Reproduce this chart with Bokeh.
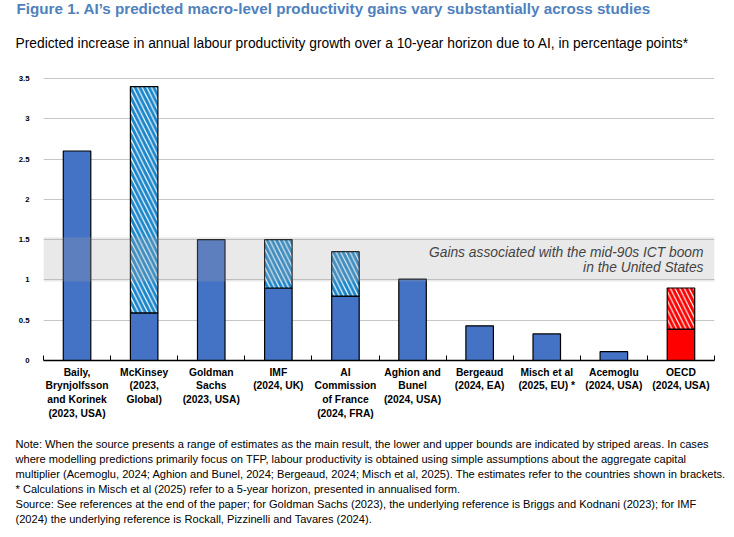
import numpy as np
from bokeh.plotting import figure
from bokeh.models import (ColumnDataSource, FixedTicker, CustomJSTickFormatter,
                          BoxAnnotation, Label, Range1d, Title)
from bokeh.embed import file_html
from bokeh.resources import INLINE

# ---------------- data ----------------
categories = [
    "Baily,\nBrynjolfsson\nand Korinek\n(2023, USA)",
    "McKinsey\n(2023,\nGlobal)",
    "Goldman\nSachs\n(2023, USA)",
    "IMF\n(2024, UK)",
    "AI\nCommission\nof France\n(2024, FRA)",
    "Aghion and\nBunel\n(2024, USA)",
    "Bergeaud\n(2024, EA)",
    "Misch et al\n(2025, EU) *",
    "Acemoglu\n(2024, USA)",
    "OECD\n(2024, USA)",
]
lower_bound = [2.6, 0.59, 1.5, 0.9, 0.8, 1.01, 0.43, 0.33, 0.11, 0.39]
upper_bound = [2.6, 3.4, 1.5, 1.5, 1.35, 1.01, 0.43, 0.33, 0.11, 0.9]
is_oecd = [False] * 9 + [True]
y_ticks = [0, 0.5, 1, 1.5, 2, 2.5, 3, 3.5]
ict_band = (0.98, 1.53)

title_text = "Figure 1. AI\u2019s predicted macro-level productivity gains vary substantially across studies"
subtitle_text = ("Predicted increase in annual labour productivity growth over a 10-year horizon "
                 "due to AI, in percentage points*")
band_text = ["Gains associated with the mid-90s ICT boom", "in the United States"]
note_lines = [
    "Note: When the source presents a range of estimates as the main result, the lower and upper bounds are indicated by striped areas. In cases",
    "where modelling predictions primarily focus on TFP, labour productivity is obtained using simple assumptions about the aggregate capital",
    "multiplier (Acemoglu, 2024; Aghion and Bunel, 2024; Bergeaud, 2024; Misch et al, 2025). The estimates refer to the countries shown in brackets.",
    "* Calculations in Misch et al (2025) refer to a 5-year horizon, presented in annualised form.",
    "Source: See references at the end of the paper; for Goldman Sachs (2023), the underlying reference is Briggs and Kodnani (2023); for IMF",
    "(2024) the underlying reference is Rockall, Pizzinelli and Tavares (2024).",
]

# ---------------- styles ----------------
FONT = "Liberation Sans"
BLUE = "#4472C4"
STRIPE_BLUE = "#1C86CB"
RED = "#FF0000"
TITLE_BLUE = "#4F81BD"

x = np.arange(1, len(categories) + 1)
has_range = [u > l for l, u in zip(lower_bound, upper_bound)]

solid_src = ColumnDataSource(dict(
    x=x, top=lower_bound,
    color=[RED if o else BLUE for o in is_oecd]))
hx, hb, ht, hc = [], [], [], []
for xi, l, u, r, o in zip(x, lower_bound, upper_bound, has_range, is_oecd):
    if r:
        hx.append(xi); hb.append(l); ht.append(u); hc.append(RED if o else STRIPE_BLUE)
hatch_src = ColumnDataSource(dict(x=hx, bottom=hb, top=ht, hcolor=hc))

W, H = 726, 537
p = figure(width=W, height=H, output_backend="svg", toolbar_location=None,
           title=None,
           x_range=Range1d(0.5, len(categories) + 0.5),
           y_range=Range1d(0, 3.599),
           min_border_left=43, min_border_right=12,
           min_border_top=69, min_border_bottom=177)
p.outline_line_color = None
p.background_fill_color = "white"
p.border_fill_color = "white"

# grid
p.xgrid.visible = False
p.ygrid.ticker = FixedTicker(ticks=y_ticks[1:])
p.ygrid.grid_line_color = "#C6C6C6"
p.ygrid.grid_line_width = 1

# bars
p.vbar(x="x", top="top", bottom=0, width=0.41, source=solid_src,
       fill_color="color", line_color="black", line_width=1.2)
p.vbar(x="x", top="top", bottom="bottom", width=0.41, source=hatch_src,
       fill_color="white", line_color="black", line_width=1.2,
       hatch_pattern="\\", hatch_color="hcolor", hatch_weight=3.0, hatch_scale=9.3)

# ICT band
p.add_layout(BoxAnnotation(bottom=ict_band[0], top=ict_band[1],
                           fill_color="#A6A6A6", fill_alpha=0.25, line_color=None,
                           level="overlay"))
for txt, yy in zip(band_text, [1.34, 1.155]):
    p.add_layout(Label(x=len(categories) + 0.5, y=yy, x_offset=-11, text=txt,
                       text_align="right", text_baseline="middle",
                       text_font=FONT, text_font_style="italic",
                       text_font_size="13.8px", text_color="#222222"))

# x axis
xa = p.xaxis[0]
xa.ticker = FixedTicker(ticks=list(x), minor_ticks=list(np.arange(0.5, len(categories) + 1, 1.0)))
xa.major_label_overrides = {int(i): c for i, c in zip(x, categories)}
xa.major_tick_line_color = None
xa.major_tick_in = 0
xa.major_tick_out = 0
xa.minor_tick_in = 5
xa.minor_tick_out = 0
xa.minor_tick_line_color = "black"
xa.minor_tick_line_width = 1
xa.axis_line_color = "black"
xa.axis_line_width = 1.5
xa.major_label_standoff = 6
xa.major_label_text_font = FONT
xa.major_label_text_font_style = "bold"
xa.major_label_text_font_size = "10.3px"
xa.major_label_text_line_height = 1.25
xa.major_label_text_color = "black"

# y axis
ya = p.yaxis[0]
ya.ticker = FixedTicker(ticks=y_ticks, minor_ticks=[])
ya.formatter = CustomJSTickFormatter(code="return tick.toString();")
ya.axis_line_color = None
ya.major_tick_line_color = None
ya.major_tick_in = 0
ya.major_tick_out = 0
ya.minor_tick_line_color = None
ya.major_label_standoff = 14
ya.major_label_text_font = FONT
ya.major_label_text_font_style = "bold"
ya.major_label_text_font_size = "7.8px"
ya.major_label_text_color = "black"

# titles: subtitle first (nearest the frame), then main title above it
p.add_layout(Title(text=subtitle_text, align="left", offset=-28, standoff=39.8,
                   text_font=FONT, text_font_size="13.8px", text_font_style="normal",
                   text_color="black"), "above")
p.add_layout(Title(text=title_text, align="left", offset=-27, standoff=-6,
                   text_font=FONT, text_font_size="15.2px", text_font_style="bold",
                   text_color=TITLE_BLUE), "above")

# gap between the category labels and the notes
p.add_layout(Title(text=" ", standoff=11.2, text_font=FONT, text_font_size="1px"), "below")

# notes below the x axis
for line in note_lines:
    p.add_layout(Title(text=line, align="left", offset=-28, standoff=0.6,
                       text_font=FONT, text_font_size="11.1px", text_font_style="normal",
                       text_color="black"), "below")

open("out.html", "w").write(file_html(p, INLINE))
